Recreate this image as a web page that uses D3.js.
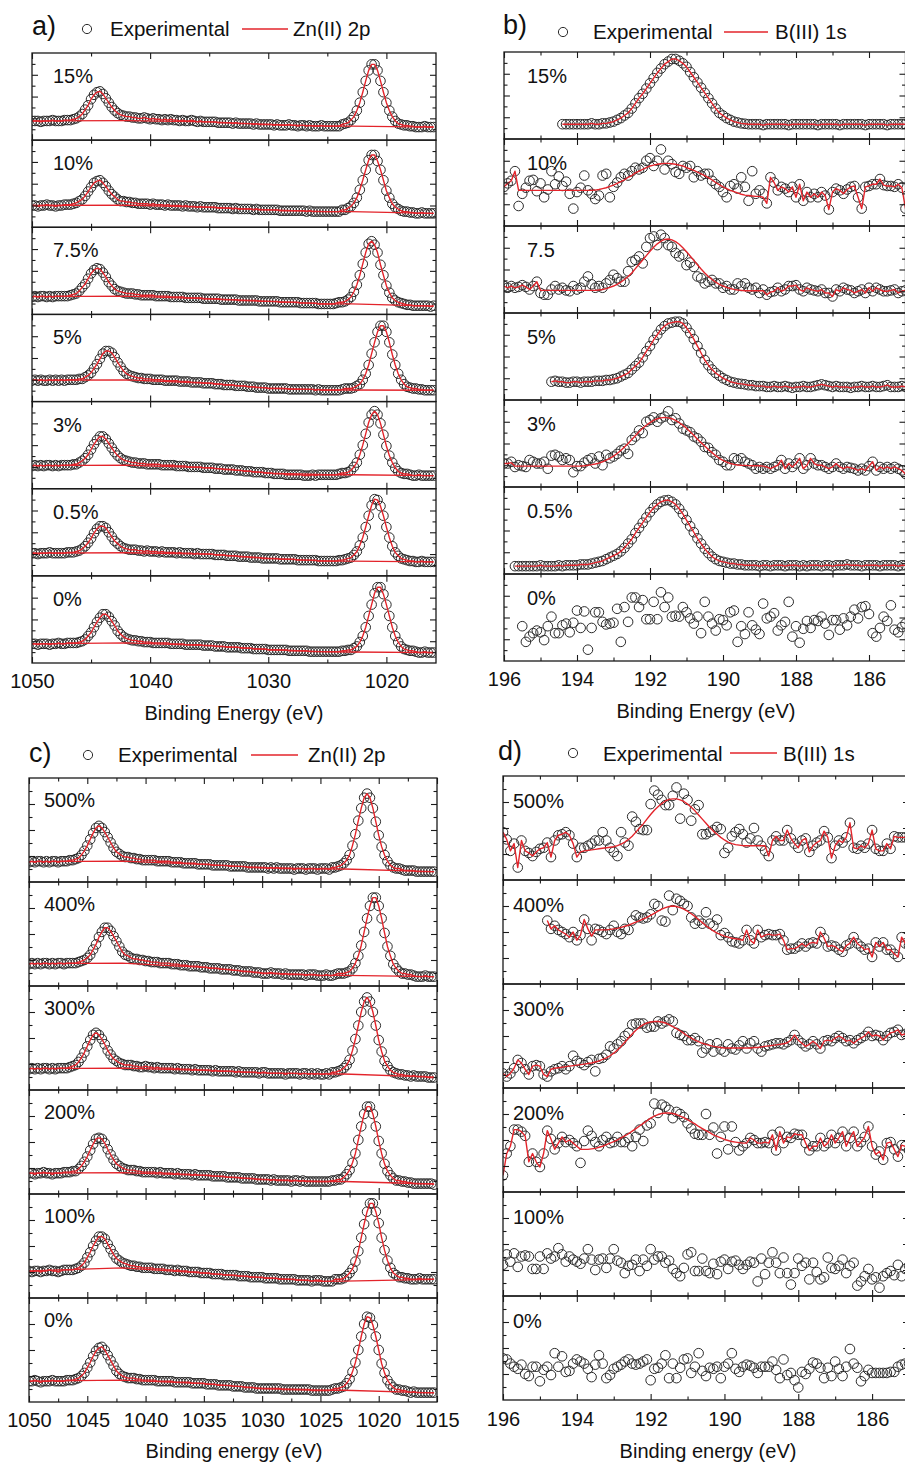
<!DOCTYPE html>
<html>
<head>
<meta charset="utf-8">
<script src="https://cdn.jsdelivr.net/npm/d3@7"></script>
<style>
  html, body { margin: 0; padding: 0; background: #fff; }
  svg { display: block; }
</style>
</head>
<body>
<svg id="fig" width="905" height="1465"></svg>
<script>
// ---------------------------------------------------------------------------
// XPS spectra: Zn 2p (panels a, c) and B 1s (panels b, d).
// Intensities are given in percent of each stacked row's height.
// Zn spectra are sampled every 0.25 eV from 1050 eV downwards,
// B spectra every 0.1 eV from the stated start energy downwards.
// ---------------------------------------------------------------------------

const ZN_START = 1050, ZN_STEP = 0.25, B_STEP = 0.1;

// ---- panel a: Zn 2p, B-doping series ----
const labelsA = ["15%", "10%", "7.5%", "5%", "3%", "0.5%", "0%"];
const znA15 = [22,22,22,21,22,22,22,23,22,22, 22,23,23,23,24,25,27,30,35,40,47,52,55,56,53,48,43,38,34,31,29,28,27,27,26,26, 25,25,26,25,24,25,24,24,23,24,23,24,23,23,22,23,22,22,23,22,21,22,21,21,21, 21,21,20,20,20,20,20,19,20,19,19,19,19,19,18,19,18,18,18,18, 18,17,18,17,17,17,18,17,17,16,17,17,16,17,16,16,16,17,16,16, 16,16,16,16, 18,19,20,23,27,34,43,55,68,80,87,87,80,68,55,43,34,27,22,19,18,17,17,16, 16,15,15,15,16,15,15,15];
const znA10 = [25,25,24,25,25,26,25,25,24,25, 25,26,26,26,27,28,30,32,36,41,46,51,53,54,51,47,42,38,35,32,30,30,29,29,28,28, 27,27,27,27,26,27,26,26,26,25,26,25,25,25,25,24,25,24,24,24,23,24,23,23,23, 23,23,22,22,22,22,22,21,22,21,21,21,21,21,20,21,20,20,20,20, 20,20,20,19,19,19,19,19,19,19,19,19,18,19,18,18,18,18,18,18, 18,18,18,18, 20,20,22,24,28,34,43,54,66,77,83,83,76,66,54,42,34,27,23,21,19,18,18,17, 17,16,16,17,16,16,16,16];
const znA75 = [20,21,20,21,21,20,21,20,21,21, 21,21,21,22,23,24,27,31,35,41,47,51,53,52,48,43,37,33,29,27,26,25,24,24,24,23, 23,22,22,22,22,22,21,21,21,21,21,20,20,20,20,20,19,19,19,19,19,19,18,18,18, 18,18,18,17,17,17,17,17,17,16,16,16,16,16,16,16,15,15,15,15, 15,15,15,14,14,14,14,14,14,14,13,13,13,13,13,13,12,12,12,12, 12,12,13,14, 14,15,17,20,26,34,45,58,71,81,84,80,71,57,45,33,25,19,16,14,13,12,11,11, 10,10,10,10,10,10,9,10];
const znA5 = [24,25,24,25,24,24,25,24,25,24,25,24,25, 25,25,25,26,26,28,30,33,38,43,49,55,58,58,56,51,45,40,35,32,30,29,28,27,27,26, 26,26,25,25,25,25,24,24,24,24,24,23,23,23,23,22,22,22,22,21,21,21, 21,20,20,20,19,19,19,19,18,18,18,18,17,17,17,16,16,16,16,15, 15,15,15,15,15,15,14,14,14,14,14,14,14,14,14,13,14,13,13,13, 13,13,13,13,14, 15,15,15,16,18,20,25,32,42,55,68,80,87,87,80,68,54,42,32,25,20,17,16,15,15,14, 14,13,13,13,13];
const znA3 = [26,27,26,27,26,27,27,26,27,26,27, 27,27,27,28,28,30,32,35,39,45,51,56,60,60,57,52,47,42,38,35,33,32,31,30,30,29, 29,29,28,28,28,28,28,27,27,27,27,27,26,26,26,26,25,25,25,25,25,24,24,24, 24,23,23,23,22,22,22,22,21,21,21,20,20,20,19,19,19,19,18,18, 18,17,17,17,17,16,16,16,16,16,16,15,15,15,16,15,16,16,16,16, 16,16,16, 17,18,18,19,21,25,30,39,50,63,76,85,89,85,75,62,49,38,30,24,20,18,17,17,16, 15,15,16,15,15,15,15,15];
const znA05 = [26,26,25,26,26,26,27,26,26,26,26, 26,27,27,27,28,29,31,34,38,43,49,54,57,57,55,50,45,40,37,34,32,31,30,30,30,29, 29,28,29,28,28,28,27,28,27,27,27,27,26,27,26,26,26,26,25,26,25,25,25,25, 25,24,24,24,24,23,23,23,23,22,22,22,22,21,21,21,21,20,20,20, 20,20,20,19,19,19,19,19,19,18,18,18,18,18,18,18,17,17,17,17, 17,17,17, 18,18,19,20,21,24,28,35,44,56,69,81,88,87,80,69,56,44,34,27,23,20,19,18,17,17, 16,16,17,16,16,16,16];
const znA0 = [22,22,21,22,22,22,21,22,22,23,22,22, 23,23,23,23,24,25,27,31,35,41,47,52,56,56,53,48,43,37,33,30,28,27,26,26,25,25, 24,24,24,23,23,23,23,23,23,22,22,22,22,22,21,21,21,21,21,21,20,20,20, 20,19,19,19,19,18,18,18,18,18,17,17,17,17,16,16,16,16,16,15, 15,15,15,15,15,15,14,14,14,14,14,14,14,13,13,13,13,13,13,13, 13,13,13,13, 14,14,15,15,17,19,24,31,41,54,67,80,87,87,79,67,54,41,31,24,19,16,15,14,14,13, 12,12,13,12,12,12];
// background (Shirley-type) under the Zn peaks, given at these energies
const bgKnotsA = [1050, 1042, 1035, 1030, 1025, 1023, 1016];
const bgA15 = [22, 22.5, 21, 18, 16.2, 16, 15];
const bgA10 = [25, 25.5, 23, 20, 18, 18, 16];
const bgA75 = [20.5, 21, 18, 15, 12, 12, 9.5];
const bgA5  = [24.5, 25, 21, 15.5, 13.5, 13.3, 13];
const bgA3  = [26.5, 27, 24, 18, 16, 16, 15];
const bgA05 = [26, 26.5, 25, 20, 17, 17, 16];
const bgA0  = [22, 23, 20, 15.5, 12.7, 12.6, 12];

// ---- panel c: Zn 2p, second series ----
const labelsC = ["500%", "400%", "300%", "200%", "100%", "0%"];
const znC500 = [19,20,19,20,20,19,20,19,20,20,19,20, 20,20,21,21,22,23,26,30,35,41,47,52,54,52,48,43,38,33,29,27,25,24,24,23,23, 22,22,21,21,21,21,21,20,20,20,20,20,19,19,19,19,18,18,18,18,18,17,17,17, 17,17,16,16,16,16,16,16,15,15,15,15,15,15,14,14,14,14,14,14, 14,13,14,13,14,13,13,13,13,13,12,13,13,13,12,13,13,13,12,13, 13,13,12, 14,14,15,16,18,21,26,35,46,59,71,81,85,81,71,58,45,34,26,20,16,14,13,13,12, 11,11,11,11,10,10,10,10,10,10,10];
const znC400 = [21,22,21,22,21,22,22,21,22,21,22,22,21,22, 22,22,22,23,24,25,27,30,35,40,47,52,56,56,53,48,43,38,33,30,29,27,26,26,25,25, 24,24,23,23,23,22,22,22,22,21,21,21,20,20,20,19,19,19,19,18,18, 18,17,17,17,17,16,16,16,16,15,15,15,14,14,14,14,13,13,13,12, 12,12,13,12,12,12,11,12,11,11,11,11,11,11,10,11,11,11,10,10, 10,11,10,10,11, 12,12,12,13,14,17,22,29,39,52,65,77,85,85,77,65,51,38,29,21,17,14,12,12,11,11, 10,9,9,9,10,9,9,9];
const znC300 = [20,21,20,21,20,21,21,20,21,20,21, 21,21,21,22,23,24,27,31,36,42,48,53,55,53,49,44,38,34,30,28,26,25,24,24,24, 23,23,22,22,23,22,22,21,22,21,21,21,21,21,20,21,20,20,20,20,19,20,19,19,19, 19,19,18,19,18,18,18,18,18,18,17,18,17,17,17,17,17,17,16,17, 17,16,16,16,16,16,16,15,16,16,16,16,15,16,16,15,16,15,16,15, 15,16,15, 17,17,18,19,21,24,29,38,49,62,75,85,89,85,75,62,48,37,28,23,19,17,16,15,15, 14,14,13,14,13,13,13,13,12,12,12];
const znC200 = [20,20,19,20,20,21,20,20,19,20,20,20, 21,21,21,22,22,24,27,31,36,42,48,53,54,53,49,43,38,33,29,27,25,24,23,23,23, 22,22,21,21,21,21,21,20,21,20,20,20,20,19,20,19,19,19,19,18,19,18,18,18, 18,18,17,17,17,17,17,16,16,16,16,16,15,15,15,15,15,14,14,14, 14,14,13,14,13,13,13,13,13,12,13,13,12,13,12,12,12,12,12,12, 12,12,12, 13,13,14,14,16,19,23,30,39,52,65,77,84,84,77,65,51,39,29,22,18,15,13,13,12,12, 11,11,10,10,10,10,10,10,10,9];
const znC100 = [26,25,26,26,25,26,26,27,26,26,25,26, 27,27,27,27,28,29,31,34,39,44,50,55,59,59,57,52,47,42,38,36,34,33,32,31,31,30, 30,29,29,29,29,28,28,28,28,27,27,27,26,27,26,26,26,25,25,25,25,24,24, 24,24,23,23,23,23,22,22,22,22,22,21,21,21,21,20,20,20,20,20, 19,19,19,19,19,18,18,18,18,18,18,17,17,17,17,17,16,17,17,17, 16,16,16,16, 18,18,18,19,21,24,28,35,45,58,71,83,91,91,83,72,58,46,36,29,24,22,20,20,19,19, 18,18,18,19,18,18,18,18,18];
const znC0 = [20,20,21,20,19,20,20,20,21,20,20,20, 20,21,21,21,22,23,25,28,33,38,44,49,52,53,50,45,40,35,30,27,25,24,23,23,23,22, 22,21,21,21,21,21,20,20,20,20,20,20,19,19,19,19,19,19,18,18,18,18,18, 17,17,17,17,16,16,16,16,16,15,15,15,15,14,14,14,14,13,13,13, 13,13,13,13,13,13,12,12,12,12,12,12,12,12,12,12,11,11,11,11, 11,11,11, 12,13,13,14,15,18,22,29,38,50,63,75,82,81,74,63,50,37,28,21,17,14,12,12,11,11, 10,9,10,9,9,9,9,9,9,9];
const bgKnotsC = [1050, 1042, 1035, 1030, 1025, 1023, 1015.25];
const bgC500 = [19.5, 20, 17, 13.7, 12.7, 12.5, 10];
const bgC400 = [21.5, 22, 18, 12.5, 10.5, 10.3, 9];
const bgC300 = [20.5, 21, 19, 16.5, 15.5, 15.4, 12.3];
const bgC200 = [20, 20.5, 18, 14, 12, 12, 9.6];
const bgC100 = [26, 29, 24, 19.5, 16, 16.2, 18];
const bgC0   = [20, 21, 17.7, 13, 11.3, 11.3, 8.7];

// ---- panel b: B 1s, B-doping series ----
const labelsB = ["15%", "10%", "7.5", "5%", "3%", "0.5%", "0%"];
const startsB = [194.4, 196, 196, 194.7, 196, 195.7, 195.5];
const bB15 = [17,17,17,17,17,17,17,17,18,17,17,18, 18,19,20,22,24,27,30,35,41,47,52,58,64,70,76,81,86,89,92,92,90,87,83,77,71,65,59,53,47,41,35,30,27,24,22,20,19,18,17.5, 17,17,17,17,16,17,17,17,17,17,17,16,17,17,17,17,17,17,17,16,17,17,17,17,17,16,17,17,17,17,17,17,16,17,17,17,17,17,16,17,17,17,17,17];
const bB10 = [45,49,52,63,23,37,44,52,53,40, 49,33,42,63,48,57,46,51,37,20, 39,44,58,41,37,31,35,58,60,33, 45,50,56,60,58,63,67,65,67,75, 78,69,75,88,65,75,71,62,60,69, 67,69,56,63,58,60,60,52,48,45, 39,33,46,48,43,56,45,29,63,37, 41,37,26,56,50,41,45,43,39,45, 33,48,29,39,33,37,33,39,35,19, 39,43,41,37,42,45,46,33,20,45, 46,48,48,54,47,46,46,45,48,44,20];
const fitB10 = [45,49,52,63, 41,41,41,41,41,41,41,41,41,41,41,41,41,41,41,41,41,41,41,41,41, 41.3,42,43,44,45.5,47,49,51,53,56,58,61,63,65,67,69,70,71,71.5,72,72,71.5,71,70,69,67,65.5,64,62,60,58,55.5,53,50,47.5,45,43,41,39.5,38,36.5,35.5,35,34.5,34,34,33, 26,56,50,41,45,43,39,45, 33,48,29,39,33,37,33,39,35,19, 39,43,41,37,42,45,46,33,20,45, 46,48,48,54,47,46,46,45,48,44,20];
const bB75 = [31,29,31,29,30,32,30,27,31,36, 23,21,21,27,31,27,29,26,25,31, 27,29,36,42,33,29,31,29,34,38, 44,40,36,36,48,59,61,65,57,76, 86,88,78,90,86,78,76,69,65,67, 55,58,53,42,40,34,36,38,34,34, 29,31,27,27,34,31,34,29,27,29, 23,27,21,24,25,29,25,27,31,31, 32,27,25,29,27,26,25,27,23,23, 19,27,25,29,27,26,23,25,27,23, 29,25,29,27,25,25,26,27,23,25,26];
const fitB75 = [31,29,31,29,30,32,30,27,31,36, 26,26,26,26,26,26,26,26,26,26,26,26,26,26,26,26, 26.5,27,28,29.5,31,33,35.5,38.5,42,46,51,56,61,66,71,75.5,79.5,82.5,84.5,85,84,82,79,75,70.5,65.5,60.5,55.5,50.5,46,42,38.5,35.5,33,31,29.5,28.2,27.2,26.5,26,25.5,25.5,25.5,25.5,25.5,25.5, 21,24,25,29,25,27,31,31, 32,27,25,29,27,26,25,27,23,23, 19,27,25,29,27,26,23,25,27,23, 29,25,29,27,25,25,26,27,23,25,26];
const bB5 = [21,22,21,21,20,20,21,21,20,21,21,21,22,22,22,23,23,24,25,27,29,31,35,39,43,49,56,62,69,75,81,85,88,89,90,90,88,83,77,70,62,54,46,40,35,31,28,25,23,21,20,19,18.5,18,17,17,16,16, 16,15,15,16,15,15,16,15,14,15,15,16,15,15,16,17,18,17,16,15,16,15,15,15,14,15,15,16,15,15,16,15,15,16,17,15,15,15,16,15];
const bB3 = [27,27,29,23,25,24,23,31,29,27, 27,29,21,36,37,35,31,33,31,17, 24,24,28,31,33,27,35,25,37,33, 35,38,42,44,38,54,58,65,62,75, 77,80,75,79,81,87,77,79,73,67, 65,63,58,56,52,46,45,40,37,31, 29,25,25,33,31,33,29,27,25,21, 23,21,23,21,23,25,31,21,27,23, 27,33,21,25,33,27,25,25,23,21, 23,27,23,21,23,22,21,19,21,19, 24,29,19,23,21,23,21,23,21,19,15];
const fitB3 = [27,27,28,24, 24,24,24,24,24,24,24,24,24,24,24,24,24,24,24,24,24, 24.2,24.5,25,25.7,26.5,27.5,29,31,33,35.5,38.5,42,46,50,54.5,59,63.5,67.5,71,74,76.5,78.5,79.5,80,79.5,78.5,76.5,74,71,67.5,63.5,59.5,55,51,47,43,39.5,36,33,30.5,28.5,27,26,25.3,25,24.8,24.6,24.5,24.5,24.5,24, 23,21,23,25,31,21,27,23, 27,33,21,25,33,27,25,25,23,21, 23,27,23,21,23,22,21,19,21,19, 24,29,19,23,21,23,21,23,21,19,15];
const bB05 = [9,9,9,9,9,9,9,10,9,9,9,9,10,9,10,10,10,10, 11,11,11,12,13,14,15,17,19,21,23,26,30,35,40,47,53,59,65,71,76,80,83,84.5,85,83,80,75,69,62,55,48,41,35,29,24,20,17,15,14,13,12,12,11,11,10, 10,10,10,9,10,10,9,10,10,10,9,10,10,10,9,10,9,10,10,10,9,10,10,9,10,10,10,11,10,10,10,9,10,10,10,10,9,10,10,10,10,9,10,10];
const bB0 = [40,22,28,32,35,33,24,40,51,32, 32,41,43,33,44,58,38,57,13,38, 56,56,45,42,43,44,60,22,62,45, 73,73,62,70,48,48,68,48,79,62, 73,51,52,51,62,56,49,43,51,32, 68,51,43,35,48,47,41,56,58,22, 40,31,56,41,36,31,66,49,51,55, 35,41,45,68,28,40,21,37,46,38, 47,46,51,43,30,47,47,36,49,41, 51,59,49,62,63,54,32,28,38,51, 46,64,36,33,39,43];

// ---- panel d: B 1s, second series ----
const labelsD = ["500%", "400%", "300%", "200%", "100%", "0%"];
const startsD = [196, 194.8, 196, 196, 196, 196];
const bD500 = [46,39,28,35,12,38,28,26,23,27, 30,31,36,22,38,43,44,46,43,35, 22,31,31,33,35,38,38,46,38,31, 27,23,46,36,33,61,56,49,48,48, 73,86,82,77,72,72,81,89,59,83, 77,57,68,72,44,44,46,48,51,49, 26,31,42,46,49,44,36,40,50,38, 33,28,23,38,42,38,38,48,40,35, 31,38,40,27,33,36,38,47,41,21, 33,38,36,41,55,31,30,33,31,35, 48,30,28,28,35,30,42,41,41,41,40];
const fitD500 = [46,39,28,35,12,38,28,26,23,27,30,31,36,22,38,43,44,46,43,35,22, 27,28,28.5,29,29.5,30,30.5,31,31.5,32,33,34.5,36.5,39,42,46,50,54,58.5,63,67,70.5,73.5,76,77.5,78,78,77,75.5,73,70,66.5,62.5,58.5,54.5,50.5,47,44,41,38.5,36.5,35,34,33.5,33,33,33,33,33,33,33, 23,38,42,38,38,48,40,35, 31,38,40,27,33,36,38,47,41,21, 33,38,36,41,55,31,30,33,31,35, 48,30,28,28,35,30,42,41,41,41,40];
const bD400 = [61,53,56,52,50,48,45,50,42,47, 62,53,42,53,52,50,48,52,56,50, 48,53,52,61,66,64,63,64,67,77, 75,61,60,85,71,82,80,77,75,64, 58,61,58,69,58,56,62,47,49,45, 41,40,39,42,52,42,39,52,45,47, 48,47,47,48,42,33,34,34,36,39, 36,39,40,39,50,44,36,37,36,33, 31,37,39,45,39,36,33,34,26,40, 36,40,33,33,29,26,45,39,37];
const fitD400 = [61,53,56,52,50,48,45,50,42,47,62,53, 46, 52,52,52,52,52.5,53,53.5,54.5,55.5,56.5,58,59.5,61,62.5,64,66,68,70,72,73.5,74.5,75,74.5,73.5,72,70,67.5,65,62,59,56,53.5,51,49,47.5,46,45,44,43.5,43,42, 52,42,39,52,45,47, 48,47,47,48,42,33,34,34,36,39, 36,39,40,39,50,44,36,37,36,33, 31,37,39,45,39,36,33,34,26,40, 36,40,33,33,29,26,45,39,37];
const bD300 = [14,11,14,19,27,24,18,13,21,22, 21,13,11,16,18,19,21,18,21,31, 26,24,22,25,27,16,28,29,32,40, 38,42,45,50,53,61,62,62,62,58, 59,59,64,62,64,66,64,53,51,50, 46,46,48,45,34,38,42,35,43,37, 35,42,38,37,41,45,38,43,45,38, 35,40,41,42,43,43,42,44,46,51, 46,43,40,42,45,42,38,45,46,45, 48,50,48,45,46,43,46,48,50,54, 50,51,50,46,50,53,54,56,51,52,53];
const fitD300 = [14,11,14,19,27,24,18,13,21,22,21,13,11, 18,19,19.5,20,20.5,21,21.5,22,22.5,23,23.5,24,25,26,27.5,29,31,33.5,36.5,40,44,48,52,55.5,58.5,61,62.5,63.5,64,64,63.5,62.5,61,59,57,55,52.5,50,48,46,44.5,43,42,41,40,39.5,39,38.5,38.5,38.5,38.5,38.5,38.5,38.5,38.5,39,39,39.5,40,40.5,41,41.5,42,42.5,43.5, 46,51, 46,43,40,42,45,42,38,45,46,45, 48,50,48,45,46,43,46,48,50,54, 50,51,50,46,50,53,54,56,51,52,53];
const bD200 = [16,37,44,60,60,58,54,29,37,29, 24,37,59,51,41,47,53,48,50,47, 44,28,49,59,54,48,44,50,53,47, 48,53,48,48,52,44,53,60,49,64, 66,85,76,84,82,79,71,77,75,72, 66,61,56,55,55,75,55,62,37,53, 63,41,63,48,40,44,47,52,50,47, 47,48,47,55,40,58,47,53,52,56, 55,55,47,40,44,44,52,44,47,55, 47,52,58,44,52,58,44,48,53,63, 44,36,39,31,47,48,41,34,45,44,40];
const fitD200 = [16,37,44,60,60,58,54,29,37,29,24,37,59,51,41,47,53,48,50,47,44, 41,41,41,41.5,42,43,44,45.5,47,48.5,50,52,54,56,58.5,61,63.5,66,68.5,71,73,74.5,75.5,76,76,75.5,74.5,73,71.5,69.5,67.5,65.5,63,61,59,57,55,53.5,52,50.5,49.5,48.5,48,47.5,47,47, 52,50,47, 47,48,47,55,40,58,47,53,52,56, 55,55,47,40,44,44,52,44,47,55, 47,52,58,44,52,58,44,48,53,63, 44,36,39,31,47,48,41,34,45,44,40];
const bD100 = [30,40,33,41,28,38,39,38,26,26, 38,26,41,36,38,46,40,33,38,35, 33,31,36,45,35,25,35,36,27,36, 45,34,32,22,29,30,35,24,35,29, 45,35,38,38,32,34,26,22,19,27, 40,42,24,24,36,24,22,31,21,33, 35,26,33,34,30,26,30,33,32,14, 36,21,32,42,32,22,37,22,11,22, 36,29,32,16,32,23,16,18,37,27, 26,29,35,22,29,32,10,14,19,26, 16,18,8,19,22,24,20,30,19,26,29];
const bD0 = [40,39,35,32,30,34,25,23,32,32, 18,29,32,24,45,32,42,27,28,35, 39,37,35,30,22,34,43,35,21,24, 30,32,34,37,39,35,34,35,37,39, 19,30,31,35,43,21,35,21,31,39, 40,26,32,45,28,23,31,30,32,21, 32,35,45,30,27,32,34,33,31,26, 32,32,32,37,29,21,39,24,26,19, 12,27,25,30,36,35,31,21,31,23, 37,30,23,32,49,35,31,18,23,29, 26,26,26,26,26,27,27,32,34,35,35];

// ---------------------------------------------------------------------------
// Figure assembly
// ---------------------------------------------------------------------------
const FONT = "'Liberation Sans', Arial, Helvetica, sans-serif";
const RED = "#e3242b";
const INK = "#1a1a1a";
const svg = d3.select("#fig").attr("font-family", FONT);
const defs = svg.append("defs");

const znRowsA = [znA15, znA10, znA75, znA5, znA3, znA05, znA0];
const bgRowsA = [bgA15, bgA10, bgA75, bgA5, bgA3, bgA05, bgA0];
const znRowsC = [znC500, znC400, znC300, znC200, znC100, znC0];
const bgRowsC = [bgC500, bgC400, bgC300, bgC200, bgC100, bgC0];
const bRows = [bB15, bB10, bB75, bB5, bB3, bB05, bB0];
const bFits = [bB15, fitB10, fitB75, bB5, fitB3, bB05, null];
const dRows = [bD500, bD400, bD300, bD200, bD100, bD0];
const dFits = [fitD500, fitD400, fitD300, fitD200, null, null];

const panels = [
  {
    id: "a", tag: "a)", series: "Zn(II) 2p",
    left: 32, right: 436, top: 53, rowH: 610 / 7,
    xDomain: [1050, 1015.8],
    majors: [1050, 1040, 1030, 1020], minors: [1045, 1035, 1025],
    labelX: 53, labelDy: 30, labelPad: 11,
    title: "Binding Energy (eV)", titleX: 234, titleY: 720,
    legend: { tagX: 32, tagY: 35, circX: 87, circY: 29, expX: 110, textY: 35.5, l1: 242, l2: 288, serX: 293 },
    rows: labelsA.map((lab, k) => ({
      label: lab, start: ZN_START, step: ZN_STEP, values: znRowsA[k], fit: znRowsA[k],
      bg: { knots: bgKnotsA, values: bgRowsA[k] }
    }))
  },
  {
    id: "b", tag: "b)", series: "B(III) 1s",
    left: 504, right: 905.5, top: 52, rowH: 87,
    xDomain: [196, 185],
    majors: [196, 194, 192, 190, 188, 186], minors: [195, 193, 191, 189, 187, 185],
    labelX: 527, labelDy: 31, labelPad: 11,
    title: "Binding Energy (eV)", titleX: 706, titleY: 718,
    legend: { tagX: 503, tagY: 34, circX: 563, circY: 32, expX: 593, textY: 38.5, l1: 724, l2: 768, serX: 775 },
    rows: labelsB.map((lab, k) => ({
      label: lab, start: startsB[k], step: B_STEP, values: bRows[k], fit: bFits[k], bg: null
    }))
  },
  {
    id: "c", tag: "c)", series: "Zn(II) 2p",
    left: 29, right: 437, top: 778, rowH: 104,
    xDomain: [1050, 1015],
    majors: [1050, 1045, 1040, 1035, 1030, 1025, 1020, 1015],
    minors: [1047.5, 1042.5, 1037.5, 1032.5, 1027.5, 1022.5, 1017.5],
    labelX: 44, labelDy: 29, labelPad: 11,
    title: "Binding energy (eV)", titleX: 234, titleY: 1458,
    legend: { tagX: 29, tagY: 761.5, circX: 88, circY: 755, expX: 118, textY: 762, l1: 251, l2: 298, serX: 308 },
    rows: labelsC.map((lab, k) => ({
      label: lab, start: ZN_START, step: ZN_STEP, values: znRowsC[k], fit: znRowsC[k],
      bg: { knots: bgKnotsC, values: bgRowsC[k] }
    }))
  },
  {
    id: "d", tag: "d)", series: "B(III) 1s",
    left: 503, right: 909, top: 776, rowH: 104,
    xDomain: [196, 185],
    majors: [196, 194, 192, 190, 188, 186], minors: [195, 193, 191, 189, 187, 185],
    labelX: 513, labelDy: 32, labelPad: 12,
    title: "Binding energy (eV)", titleX: 708, titleY: 1458,
    legend: { tagX: 498, tagY: 760, circX: 573, circY: 753, expX: 603, textY: 760.5, l1: 730, l2: 777, serX: 783 },
    rows: labelsD.map((lab, k) => ({
      label: lab, start: startsD[k], step: B_STEP, values: dRows[k], fit: dFits[k], bg: null
    }))
  }
];

function styleAxis(g, width) {
  g.select(".domain").remove();
  g.selectAll(".tick line").attr("stroke", INK).attr("stroke-width", width);
}

function drawPanel(p) {
  const x = d3.scaleLinear().domain(p.xDomain).range([p.left, p.right]);
  const root = svg.append("g").attr("class", "panel-" + p.id);
  const nRows = p.rows.length;

  p.rows.forEach((row, k) => {
    const y0 = p.top + k * p.rowH, y1 = y0 + p.rowH;
    const y = d3.scaleLinear().domain([0, 100]).range([y1, y0]);
    const cid = `clip-${p.id}-${k}`;
    defs.append("clipPath").attr("id", cid).append("rect")
      .attr("x", p.left).attr("y", y0).attr("width", p.right - p.left).attr("height", p.rowH);

    const plot = root.append("g").attr("clip-path", `url(#${cid})`);
    const pts = row.values.map((v, i) => [row.start - i * row.step, v]);

    // measured spectrum (open circles)
    plot.append("g").selectAll("circle").data(pts).join("circle")
      .attr("cx", d => x(d[0])).attr("cy", d => y(d[1])).attr("r", 4.8)
      .attr("fill", "none").attr("stroke", "#2b2b2b").attr("stroke-width", 1);

    const line = d3.line().x(d => x(d[0])).y(d => y(d[1]));

    // background line
    if (row.bg) {
      plot.append("path")
        .datum(row.bg.knots.map((e, i) => [e, row.bg.values[i]]))
        .attr("d", line).attr("fill", "none").attr("stroke", RED).attr("stroke-width", 1.3);
    }
    // fitted envelope
    if (row.fit) {
      plot.append("path")
        .datum(row.fit.map((v, i) => [row.start - i * row.step, v]))
        .attr("d", line).attr("fill", "none").attr("stroke", RED)
        .attr("stroke-width", 1.4).attr("stroke-linejoin", "round");
    }

    // frame
    root.append("rect")
      .attr("x", p.left).attr("y", y0).attr("width", p.right - p.left).attr("height", p.rowH)
      .attr("fill", "none").attr("stroke", INK).attr("stroke-width", 1.3);

    // inward ticks on all four sides
    const tickSpecs = [
      [d3.axisBottom(x), p.majors, 6, `translate(0,${y1})`],
      [d3.axisBottom(x), p.minors, 3.5, `translate(0,${y1})`],
      [d3.axisTop(x), p.majors, 6, `translate(0,${y0})`],
      [d3.axisTop(x), p.minors, 3.5, `translate(0,${y0})`],
      [d3.axisLeft(y), [25, 50, 75], 6, `translate(${p.left},0)`],
      [d3.axisLeft(y), [12.5, 37.5, 62.5, 87.5], 3.5, `translate(${p.left},0)`],
      [d3.axisRight(y), [25, 50, 75], 6, `translate(${p.right},0)`],
      [d3.axisRight(y), [12.5, 37.5, 62.5, 87.5], 3.5, `translate(${p.right},0)`]
    ];
    tickSpecs.forEach(([axis, vals, size, tr]) => {
      root.append("g").attr("transform", tr)
        .call(axis.tickValues(vals).tickSize(-size).tickFormat(""))
        .call(g => styleAxis(g, 1.1));
    });

    // row label
    root.append("text")
      .attr("x", p.labelX).attr("y", y0 + p.labelDy)
      .attr("font-size", 20).attr("fill", "#111").text(row.label);

    // energy labels under the last row
    if (k === nRows - 1) {
      root.append("g").attr("transform", `translate(0,${y1})`)
        .call(d3.axisBottom(x).tickValues(p.majors).tickSize(0).tickPadding(p.labelPad).tickFormat(d3.format("d")))
        .call(g => {
          g.select(".domain").remove();
          g.attr("font-size", 20).attr("font-family", FONT);
          g.selectAll("text").attr("fill", "#111");
        });
    }
  });

  // axis title
  root.append("text")
    .attr("x", p.titleX).attr("y", p.titleY).attr("text-anchor", "middle")
    .attr("font-size", 20).attr("fill", "#111").text(p.title);

  // legend
  const L = p.legend;
  root.append("text").attr("x", L.tagX).attr("y", L.tagY)
    .attr("font-size", 27).attr("fill", "#111").text(p.tag);
  root.append("circle").attr("cx", L.circX).attr("cy", L.circY).attr("r", 4.6)
    .attr("fill", "none").attr("stroke", "#2b2b2b").attr("stroke-width", 1);
  root.append("text").attr("x", L.expX).attr("y", L.textY)
    .attr("font-size", 20.5).attr("fill", "#111").text("Experimental");
  root.append("line").attr("x1", L.l1).attr("x2", L.l2).attr("y1", L.circY).attr("y2", L.circY)
    .attr("stroke", RED).attr("stroke-width", 1.5);
  root.append("text").attr("x", L.serX).attr("y", L.textY)
    .attr("font-size", 20.5).attr("fill", "#111").text(p.series);
}

panels.forEach(drawPanel);
</script>
</body>
</html>
